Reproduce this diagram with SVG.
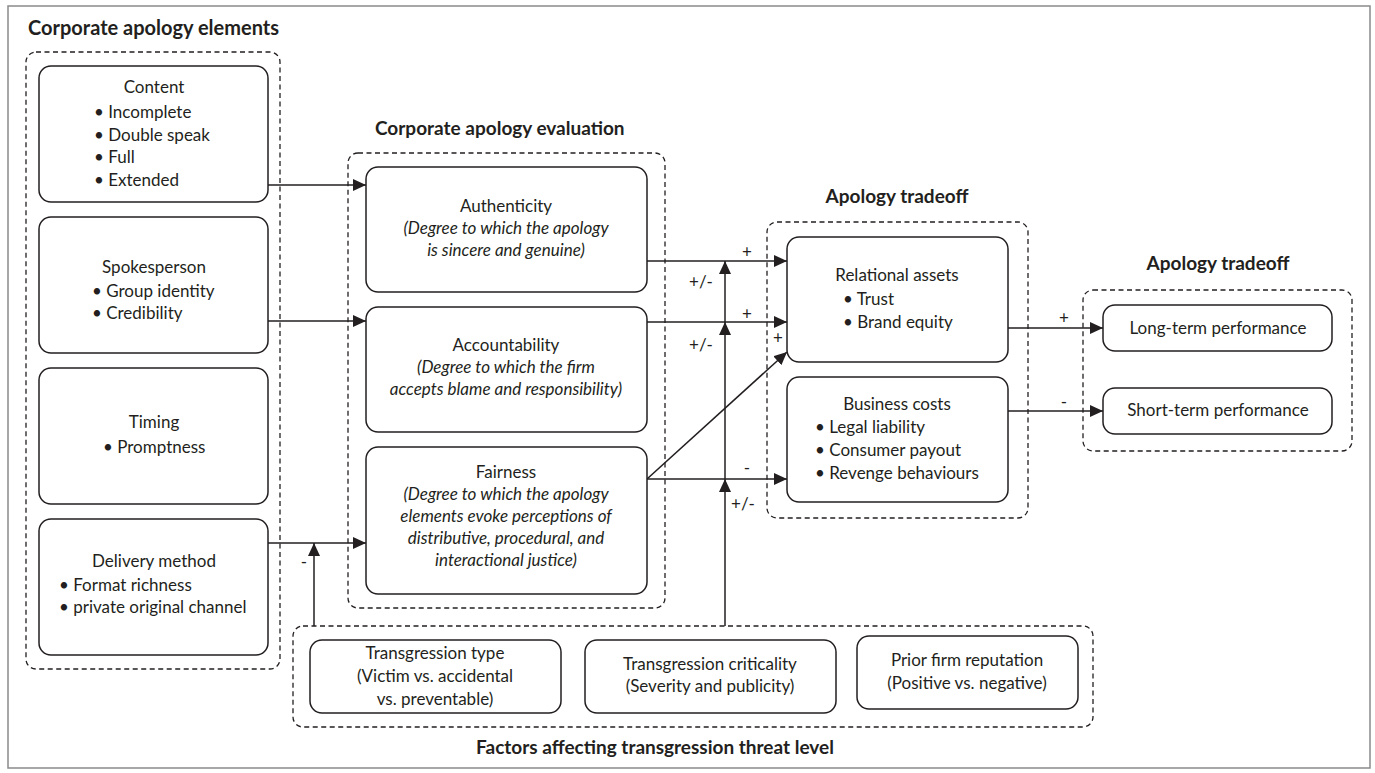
<svg xmlns="http://www.w3.org/2000/svg" width="1375" height="773" viewBox="0 0 1375 773">
<defs>
<marker id="ah" markerUnits="userSpaceOnUse" markerWidth="14" markerHeight="12" refX="13" refY="6" orient="auto">
<path d="M0,0 L13,6 L0,12 z" fill="#231f20"/>
</marker>
<style>
.t{font-family:Lato,"Liberation Sans",sans-serif;font-size:17px;fill:#231f20}
.i{font-style:italic}
.c{text-anchor:middle}
.h{font-family:Lato,"Liberation Sans",sans-serif;font-size:19px;font-weight:bold;fill:#231f20}
.box{fill:#fff;stroke:#231f20;stroke-width:1.5}
.grp{fill:none;stroke:#231f20;stroke-width:1.3;stroke-dasharray:5,3.5}
.ln{fill:none;stroke:#231f20;stroke-width:1.5}
.ar{fill:none;stroke:#231f20;stroke-width:1.5;marker-end:url(#ah)}
</style>
</defs>
<rect x="0" y="0" width="1375" height="773" fill="#fff"/>
<rect x="8" y="6" width="1362" height="762" fill="none" stroke="#8a8a8a" stroke-width="1.5"/>

<g id="groups">
<text class="h" x="28" y="35" style="font-size:20px">Corporate apology elements</text>
<rect class="grp" x="26" y="52" width="254" height="617" rx="10"/>
<text class="h" x="375" y="135">Corporate apology evaluation</text>
<rect class="grp" x="348" y="153" width="317" height="455" rx="10"/>
<text class="h c" x="897" y="203">Apology tradeoff</text>
<rect class="grp" x="767" y="222" width="261" height="296" rx="10"/>
<text class="h c" x="1218" y="270">Apology tradeoff</text>
<rect class="grp" x="1083" y="290" width="269" height="161" rx="10"/>
<rect class="grp" x="293" y="626" width="800" height="101" rx="10"/>
<text class="h c" x="655" y="754">Factors affecting transgression threat level</text>
</g>

<g id="connectors">
<line class="ar" x1="268" y1="185" x2="366" y2="185"/>
<line class="ar" x1="268" y1="321" x2="366" y2="321"/>
<line class="ar" x1="268" y1="543" x2="366" y2="543"/>
<line class="ar" x1="314" y1="626" x2="314" y2="543"/>
<text class="t c" x="304" y="568">-</text>
<line class="ar" x1="647" y1="261" x2="787" y2="261"/>
<line class="ar" x1="647" y1="322" x2="787" y2="322"/>
<line class="ar" x1="647" y1="479" x2="787" y2="479"/>
<line class="ar" x1="647" y1="479" x2="787" y2="352"/>
<line class="ar" x1="725" y1="626" x2="725" y2="479"/>
<line class="ar" x1="725" y1="479" x2="725" y2="322"/>
<line class="ar" x1="725" y1="322" x2="725" y2="261"/>
<text class="t c" x="747" y="258">+</text>
<text class="t c" x="747" y="320">+</text>
<text class="t c" x="747" y="474">-</text>
<text class="t c" x="778" y="344">+</text>
<text class="t c" x="701" y="288">+/-</text>
<text class="t c" x="701" y="351">+/-</text>
<text class="t c" x="743" y="510">+/-</text>
<line class="ar" x1="1008" y1="328" x2="1103" y2="328"/>
<line class="ar" x1="1008" y1="411" x2="1103" y2="411"/>
<text class="t c" x="1064" y="324">+</text>
<text class="t c" x="1064" y="408">-</text>
</g>

<g id="content">
<rect class="box" x="39" y="66" width="229" height="136" rx="12"/>
<text class="t c" x="154" y="93">Content</text>
<text class="t" x="94" y="118">• Incomplete</text>
<text class="t" x="94" y="141">• Double speak</text>
<text class="t" x="94" y="163">• Full</text>
<text class="t" x="94" y="186">• Extended</text>
</g>
<g id="spokesperson">
<rect class="box" x="39" y="217" width="229" height="136" rx="12"/>
<text class="t c" x="154" y="273">Spokesperson</text>
<text class="t" x="92" y="297">• Group identity</text>
<text class="t" x="92" y="319">• Credibility</text>
</g>
<g id="timing">
<rect class="box" x="39" y="368" width="229" height="136" rx="12"/>
<text class="t c" x="154" y="428">Timing</text>
<text class="t" x="103" y="453">• Promptness</text>
</g>
<g id="delivery">
<rect class="box" x="39" y="519" width="229" height="136" rx="12"/>
<text class="t c" x="154" y="567">Delivery method</text>
<text class="t" x="59" y="591">• Format richness</text>
<text class="t" x="59" y="613">• private original channel</text>
</g>

<g id="authenticity">
<rect class="box" x="366" y="167" width="281" height="125" rx="12"/>
<text class="t c" x="506" y="212">Authenticity</text>
<text class="t c i" x="506" y="234">(Degree to which the apology</text>
<text class="t c i" x="506" y="256">is sincere and genuine)</text>
</g>
<g id="accountability">
<rect class="box" x="366" y="307" width="281" height="125" rx="12"/>
<text class="t c" x="506" y="351">Accountability</text>
<text class="t c i" x="506" y="373">(Degree to which the firm</text>
<text class="t c i" x="506" y="395">accepts blame and responsibility)</text>
</g>
<g id="fairness">
<rect class="box" x="366" y="447" width="281" height="147" rx="12"/>
<text class="t c" x="506" y="478">Fairness</text>
<text class="t c i" x="506" y="500">(Degree to which the apology</text>
<text class="t c i" x="506" y="522">elements evoke perceptions of</text>
<text class="t c i" x="506" y="544">distributive, procedural, and</text>
<text class="t c i" x="506" y="566">interactional justice)</text>
</g>

<g id="relational">
<rect class="box" x="787" y="237" width="221" height="125" rx="12"/>
<text class="t c" x="897" y="281">Relational assets</text>
<text class="t" x="843" y="305">• Trust</text>
<text class="t" x="843" y="328">• Brand equity</text>
</g>
<g id="business">
<rect class="box" x="787" y="377" width="221" height="125" rx="12"/>
<text class="t c" x="897" y="410">Business costs</text>
<text class="t" x="815" y="433">• Legal liability</text>
<text class="t" x="815" y="456">• Consumer payout</text>
<text class="t" x="815" y="479">• Revenge behaviours</text>
</g>

<g id="longterm">
<rect class="box" x="1103" y="305" width="229" height="46" rx="12"/>
<text class="t c" x="1218" y="334">Long-term performance</text>
</g>
<g id="shortterm">
<rect class="box" x="1103" y="388" width="229" height="46" rx="12"/>
<text class="t c" x="1218" y="416">Short-term performance</text>
</g>

<g id="transtype">
<rect class="box" x="310" y="640" width="251" height="73" rx="12"/>
<text class="t c" x="435" y="659">Transgression type</text>
<text class="t c" x="435" y="682">(Victim vs. accidental</text>
<text class="t c" x="435" y="705">vs. preventable)</text>
</g>
<g id="transcrit">
<rect class="box" x="585" y="640" width="251" height="73" rx="12"/>
<text class="t c" x="710" y="670">Transgression criticality</text>
<text class="t c" x="710" y="692">(Severity and publicity)</text>
</g>
<g id="prior">
<rect class="box" x="857" y="636" width="221" height="73" rx="12"/>
<text class="t c" x="967" y="666">Prior firm reputation</text>
<text class="t c" x="967" y="689">(Positive vs. negative)</text>
</g>
</svg>
